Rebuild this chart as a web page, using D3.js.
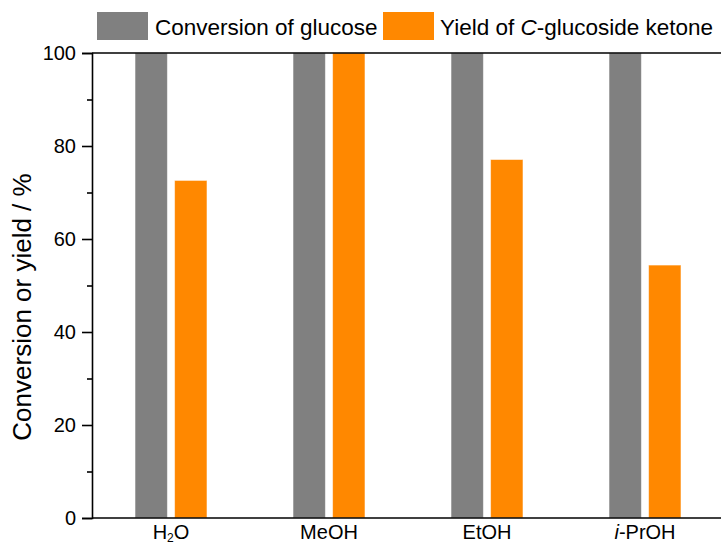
<!DOCTYPE html>
<html>
<head>
<meta charset="utf-8">
<script src="https://cdn.jsdelivr.net/npm/d3@7"></script>
<style>
  html, body { margin: 0; padding: 0; background: #fff; }
  svg { display: block; font-family: "Liberation Sans", Arial, sans-serif; }
</style>
</head>
<body>
<svg id="chart" width="721" height="544"></svg>
<script>
// Solvents tested
const solvents = ["H2O", "MeOH", "EtOH", "i-PrOH"];
// Series
const seriesNames = ["Conversion of glucose", "Yield of C-glucoside ketone"];
const conversion = [100, 100, 100, 100];
const yieldKetone = [72.6, 100, 77.1, 54.4];
const seriesColors = ["#808080", "#FF8800"];
// Axis ticks
const yMajorTicks = [0, 20, 40, 60, 80, 100];
const yMinorTicks = [10, 30, 50, 70, 90];

const svg = d3.select("#chart");
const margin = { left: 92, top: 53, right: -3, bottom: 26 };
const W = 721, H = 544;
const x0 = margin.left, x1 = W - margin.right;
const yTop = margin.top, yBot = H - margin.bottom;

const x = d3.scaleBand().domain(solvents).range([x0, x1]).padding(0);
const y = d3.scaleLinear().domain([0, 100]).range([yBot, yTop]);

const rows = solvents.map((s, i) => ({ solvent: s, values: [conversion[i], yieldKetone[i]] }));

// inner band scale for the two series within a group
const groupHalf = 36;
const xs = d3.scaleBand().domain([0, 1]).range([-groupHalf, groupHalf]).paddingInner(0.18).paddingOuter(0);

const plot = svg.append("g");
const groups = plot.selectAll("g.grp").data(rows).join("g")
  .attr("class", "grp")
  .attr("transform", d => `translate(${x(d.solvent) + x.bandwidth() / 2},0)`);

groups.selectAll("rect").data(d => d.values.map((v, k) => ({ v, k }))).join("rect")
  .attr("x", d => xs(d.k))
  .attr("width", xs.bandwidth())
  .attr("y", d => y(d.v))
  .attr("height", d => y(0) - y(d.v))
  .attr("fill", d => seriesColors[d.k])
  .attr("stroke", "#ffffff")
  .attr("stroke-opacity", 0.55)
  .attr("stroke-width", 1);

// frame lines (top and bottom) and left axis
const frame = svg.append("g").attr("stroke", "#000").attr("stroke-width", 1.6).attr("fill", "none");
frame.append("line").attr("x1", x0).attr("x2", W + 5).attr("y1", yTop).attr("y2", yTop);
frame.append("line").attr("x1", x0).attr("x2", W + 5).attr("y1", yBot).attr("y2", yBot);

const yAxis = d3.axisLeft(y).tickValues(yMajorTicks).tickSize(10).tickPadding(6).tickFormat(d3.format("d"));
const gy = svg.append("g").attr("transform", `translate(${x0},0)`).call(yAxis);
gy.select(".domain").attr("stroke-width", 1.6);
gy.selectAll(".tick line").attr("stroke-width", 1.6);
gy.selectAll(".tick text").attr("font-size", 20).attr("fill", "#000")
  .attr("font-family", "'Liberation Sans', Arial, sans-serif");

const yMinor = d3.axisLeft(y).tickValues(yMinorTicks).tickSize(5).tickFormat("");
const gym = svg.append("g").attr("transform", `translate(${x0},0)`).call(yMinor);
gym.select(".domain").remove();
gym.selectAll(".tick line").attr("stroke-width", 1.6);

// y axis title
svg.append("text")
  .attr("transform", `translate(31,307) rotate(-90)`)
  .attr("text-anchor", "middle")
  .attr("font-size", 26)
  .attr("fill", "#000")
  .text("Conversion or yield / %");

// x category labels (with subscript / italic parts)
const labelY = yBot + 21;
svg.append("g").selectAll("text").data(solvents).join("text")
  .attr("x", d => x(d) + x.bandwidth() / 2)
  .attr("y", labelY)
  .attr("text-anchor", "middle")
  .attr("font-size", 20)
  .attr("fill", "#000")
  .each(function (d) {
    const t = d3.select(this);
    if (d === "H2O") {
      t.append("tspan").text("H");
      t.append("tspan").attr("font-size", 12).attr("dy", 3).text("2");
      t.append("tspan").attr("dy", -3).text("O");
    } else if (d === "i-PrOH") {
      t.append("tspan").attr("font-style", "italic").text("i");
      t.append("tspan").text("-PrOH");
    } else {
      t.text(d);
    }
  });

// legend
const legend = svg.append("g");
const legendItems = [
  { sx: 97, tx: 155 },
  { sx: 383, tx: 440 }
];
legendItems.forEach((p, k) => {
  legend.append("rect")
    .attr("x", p.sx).attr("y", 12).attr("width", 51).attr("height", 28)
    .attr("fill", seriesColors[k]);
  const t = legend.append("text")
    .attr("x", p.tx).attr("y", 35)
    .attr("font-size", 22.5).attr("fill", "#000");
  if (k === 0) {
    t.text(seriesNames[0]);
  } else {
    t.append("tspan").text("Yield of ");
    t.append("tspan").attr("font-style", "italic").text("C");
    t.append("tspan").text("-glucoside ketone");
  }
});
</script>
</body>
</html>
